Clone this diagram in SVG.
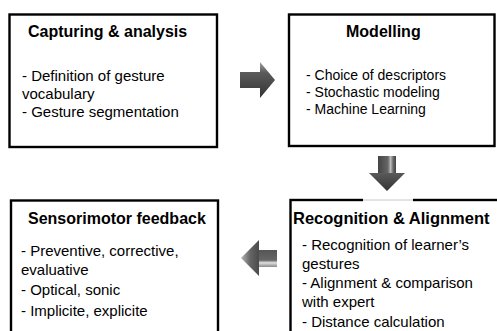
<svg xmlns="http://www.w3.org/2000/svg" width="497" height="331" viewBox="0 0 497 331">
<style>
.box{fill:#fff;stroke:#000;stroke-width:2.4}
.title{font-family:"Liberation Sans",Arial,sans-serif;font-weight:bold;font-size:16px;fill:#000}
.body{font-family:"Liberation Sans",Arial,sans-serif;font-size:15px;fill:#000}
.body14{font-family:"Liberation Sans",Arial,sans-serif;font-size:14px;fill:#000}
</style>
<defs>
<linearGradient id="gR" x1="0" y1="0" x2="0" y2="1">
<stop offset="0" stop-color="#a0a0a0"/>
<stop offset="0.3" stop-color="#5a5a5a"/>
<stop offset="1" stop-color="#333"/>
</linearGradient>
<linearGradient id="gD" x1="0" y1="0" x2="1" y2="0">
<stop offset="0" stop-color="#444"/>
<stop offset="0.55" stop-color="#666"/>
<stop offset="0.7" stop-color="#bdbdbd"/>
<stop offset="0.85" stop-color="#666"/>
<stop offset="1" stop-color="#444"/>
</linearGradient>
<linearGradient id="gDh" x1="0" y1="0" x2="0" y2="1">
<stop offset="0" stop-color="#5a5a5a"/>
<stop offset="1" stop-color="#333"/>
</linearGradient>
<linearGradient id="gL" x1="0" y1="0" x2="1" y2="0">
<stop offset="0" stop-color="#b5b5b5"/>
<stop offset="0.5" stop-color="#666"/>
<stop offset="1" stop-color="#4a4a4a"/>
</linearGradient>
<linearGradient id="gLb" x1="0" y1="0" x2="0" y2="1">
<stop offset="0" stop-color="#555"/>
<stop offset="0.6" stop-color="#666"/>
<stop offset="0.75" stop-color="#e0e0e0"/>
<stop offset="1" stop-color="#8a8a8a"/>
</linearGradient>
</defs>

<g id="node-capturing">
<rect class="box" x="9.5" y="14.5" width="207.5" height="132.5"/>
<text class="title" x="28" y="37">Capturing &amp; analysis</text>
<text class="body" x="22" y="81">- Definition of gesture</text>
<text class="body" x="22" y="99">vocabulary</text>
<text class="body" x="22" y="117">- Gesture segmentation</text>
</g>

<g id="node-modelling">
<rect class="box" x="289" y="14.5" width="205.5" height="131.5"/>
<text class="title" x="346" y="37">Modelling</text>
<text class="body14" x="306" y="80">- Choice of descriptors</text>
<text class="body14" x="306" y="97">- Stochastic modeling</text>
<text class="body14" x="306" y="114">- Machine Learning</text>
</g>

<g id="node-feedback">
<rect class="box" x="11" y="200.5" width="207" height="150"/>
<text class="title" x="28" y="224">Sensorimotor feedback</text>
<text class="body" x="21" y="256">- Preventive, corrective,</text>
<text class="body" x="21" y="275">evaluative</text>
<text class="body" x="21" y="295">- Optical, sonic</text>
<text class="body" x="21" y="316">- Implicite, explicite</text>
</g>

<g id="node-recognition">
<rect class="box" x="290.5" y="200" width="230" height="150"/>
<text class="title" x="293" y="224" style="font-size:16.5px">Recognition &amp; Alignment</text>
<text class="body" x="302" y="250">- Recognition of learner’s</text>
<text class="body" x="302" y="269">gestures</text>
<text class="body" x="302" y="288">- Alignment &amp; comparison</text>
<text class="body" x="302" y="307">with expert</text>
<text class="body" x="302" y="327">- Distance calculation</text>
</g>

<g id="connectors">
<polygon points="240,72 260,72 260,62 275,80 260,98 260,88 240,88" fill="url(#gR)"/>
<rect x="363" y="197" width="50" height="5" fill="#fff"/>
<line x1="363" y1="200" x2="413" y2="200" stroke="#c8c8c8" stroke-width="1"/>
<rect x="378" y="156" width="18" height="17" fill="url(#gD)"/>
<polygon points="369,173 405,173 387,191" fill="url(#gDh)"/>
<polygon points="241,258 259,240 259,276" fill="url(#gL)"/>
<rect x="259" y="250" width="18" height="17" fill="url(#gLb)"/>
</g>
</svg>
